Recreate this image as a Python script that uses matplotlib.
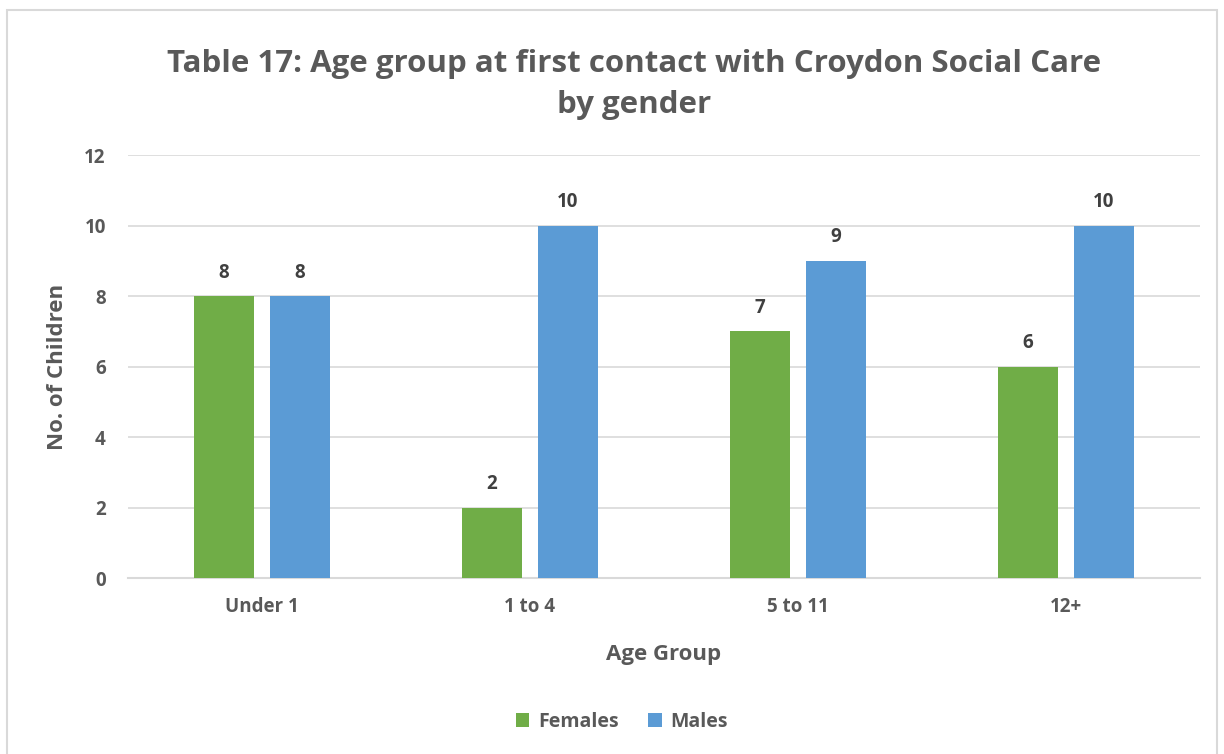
import matplotlib
matplotlib.use("Agg")
import matplotlib.pyplot as plt
import numpy as np
from matplotlib.patches import Rectangle

age_groups = ["Under 1", "1 to 4", "5 to 11", "12+"]
females = [8, 2, 7, 6]
males = [8, 10, 9, 10]

GREEN = "#70AD47"
BLUE = "#5B9BD5"
TEXT = "#595959"

plt.rcParams["font.family"] = ["Open Sans", "DejaVu Sans"]
plt.rcParams["font.weight"] = "bold"

fig = plt.figure(figsize=(12.24, 7.54), dpi=100)
ax = fig.add_axes([0.1046, 0.2334, 0.8755, 0.561])

# chart frame
fig.patches.append(Rectangle((7 / 1224, -0.01), 1210 / 1224, 1 - 10 / 754 + 0.01,
                             transform=fig.transFigure, fill=False,
                             edgecolor="#D9D9D9", lw=1.5))

x = np.arange(len(age_groups))
w = 0.224
off = 0.142
b1 = ax.bar(x - off, females, w, color=GREEN, label="Females", zorder=3)
b2 = ax.bar(x + off, males, w, color=BLUE, label="Males", zorder=3)

for bars in (b1, b2):
    for r in bars:
        ax.text(r.get_x() + r.get_width() / 2, r.get_height() + 0.38,
                f"{r.get_height():.0f}", ha="center", va="bottom",
                fontsize=13.5, fontweight="bold", color="#404040")

ax.set_xlim(-0.5, 3.5)
ax.set_ylim(0, 12)
ax.set_yticks(range(0, 13, 2))
ax.set_xticks(x)
ax.set_xticklabels(age_groups)
ax.yaxis.grid(True, color="#D9D9D9", lw=1.2, zorder=0)
ax.set_axisbelow(True)
for s in ["top", "right", "left"]:
    ax.spines[s].set_visible(False)
ax.spines["bottom"].set_color("#D9D9D9")
ax.spines["bottom"].set_linewidth(1.5)
ax.tick_params(length=0, labelsize=13.5, colors=TEXT, pad=14)
ax.tick_params(axis="y", pad=16)
for lab in ax.get_xticklabels() + ax.get_yticklabels():
    lab.set_fontweight("bold")

ax.set_xlabel("Age Group", fontsize=16, color=TEXT, fontweight="bold", labelpad=19)
ax.set_ylabel("No. of Children", fontsize=16, color=TEXT, fontweight="bold", labelpad=12)

fig.text(0.518, 0.888, "Table 17: Age group at first contact with Croydon Social Care\nby gender",
         ha="center", va="center", fontsize=22.5, fontweight="bold", color=TEXT,
         linespacing=1.45)

leg = fig.legend(loc="center", bbox_to_anchor=(0.508, 0.043), ncol=2, frameon=False,
                 fontsize=14, handlelength=0.7, handleheight=0.7,
                 handletextpad=0.45, columnspacing=1.5)
for t in leg.get_texts():
    t.set_color(TEXT)
    t.set_fontweight("bold")

fig.savefig("out.png", dpi=100, facecolor="white")
